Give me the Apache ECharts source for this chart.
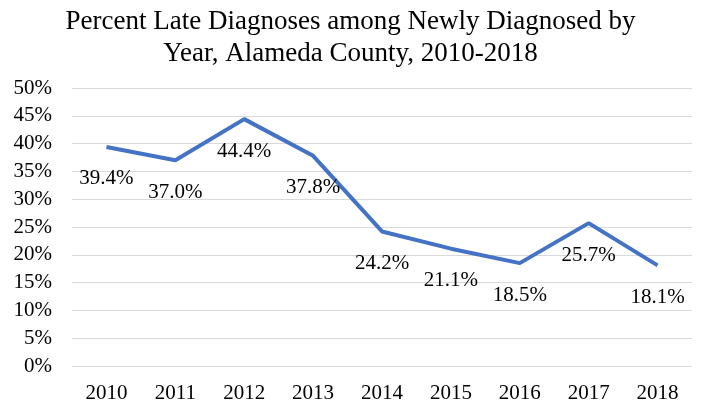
<!DOCTYPE html>
<html>
<head>
<meta charset="utf-8">
<script src="https://cdn.jsdelivr.net/npm/echarts@6/dist/echarts.min.js"></script>
<style>
  html, body { margin: 0; padding: 0; background: #fff; }
  #chart { width: 701px; height: 406px; }
</style>
</head>
<body>
<div id="chart"></div>
<script>
const years = ['2010', '2011', '2012', '2013', '2014', '2015', '2016', '2017', '2018']
const lateDiagnosisPct = [39.4, 37.0, 44.4, 37.8, 24.2, 21.1, 18.5, 25.7, 18.1]

const font = '"Liberation Serif", "Times New Roman", serif'

const chart = echarts.init(document.getElementById('chart'))

chart.setOption({
  animation: false,
  title: {
    text: 'Percent Late Diagnoses among Newly Diagnosed by\nYear, Alameda County, 2010-2018',
    left: 'center',
    top: 1,
    textStyle: {
      fontFamily: font,
      fontWeight: 'normal',
      fontSize: 27,
      lineHeight: 32,
      color: '#000'
    }
  },
  grid: {
    left: 72,
    right: 9,
    top: 88,
    bottom: 40
  },
  xAxis: {
    type: 'category',
    data: years,
    boundaryGap: true,
    axisLine: { show: false },
    axisTick: { show: false },
    axisLabel: {
      fontFamily: font,
      fontSize: 21,
      color: '#000',
      margin: 17
    }
  },
  yAxis: {
    type: 'value',
    min: 0,
    max: 50,
    interval: 5,
    axisLine: { show: false },
    axisTick: { show: false },
    axisLabel: {
      formatter: '{value}%',
      fontFamily: font,
      fontSize: 21,
      color: '#000',
      margin: 20
    },
    splitLine: { lineStyle: { color: '#d9d9d9', width: 1 } }
  },
  series: [{
    type: 'line',
    data: lateDiagnosisPct,
    symbol: 'circle',
    symbolSize: 1,
    itemStyle: { color: 'rgba(0,0,0,0)' },
    lineStyle: { color: '#4472C4', width: 4 },
    label: {
      show: true,
      position: 'bottom',
      distance: 21,
      formatter: p => p.value.toFixed(1) + '%',
      fontFamily: font,
      fontSize: 21,
      color: '#000'
    }
  }]
})
</script>
</body>
</html>
